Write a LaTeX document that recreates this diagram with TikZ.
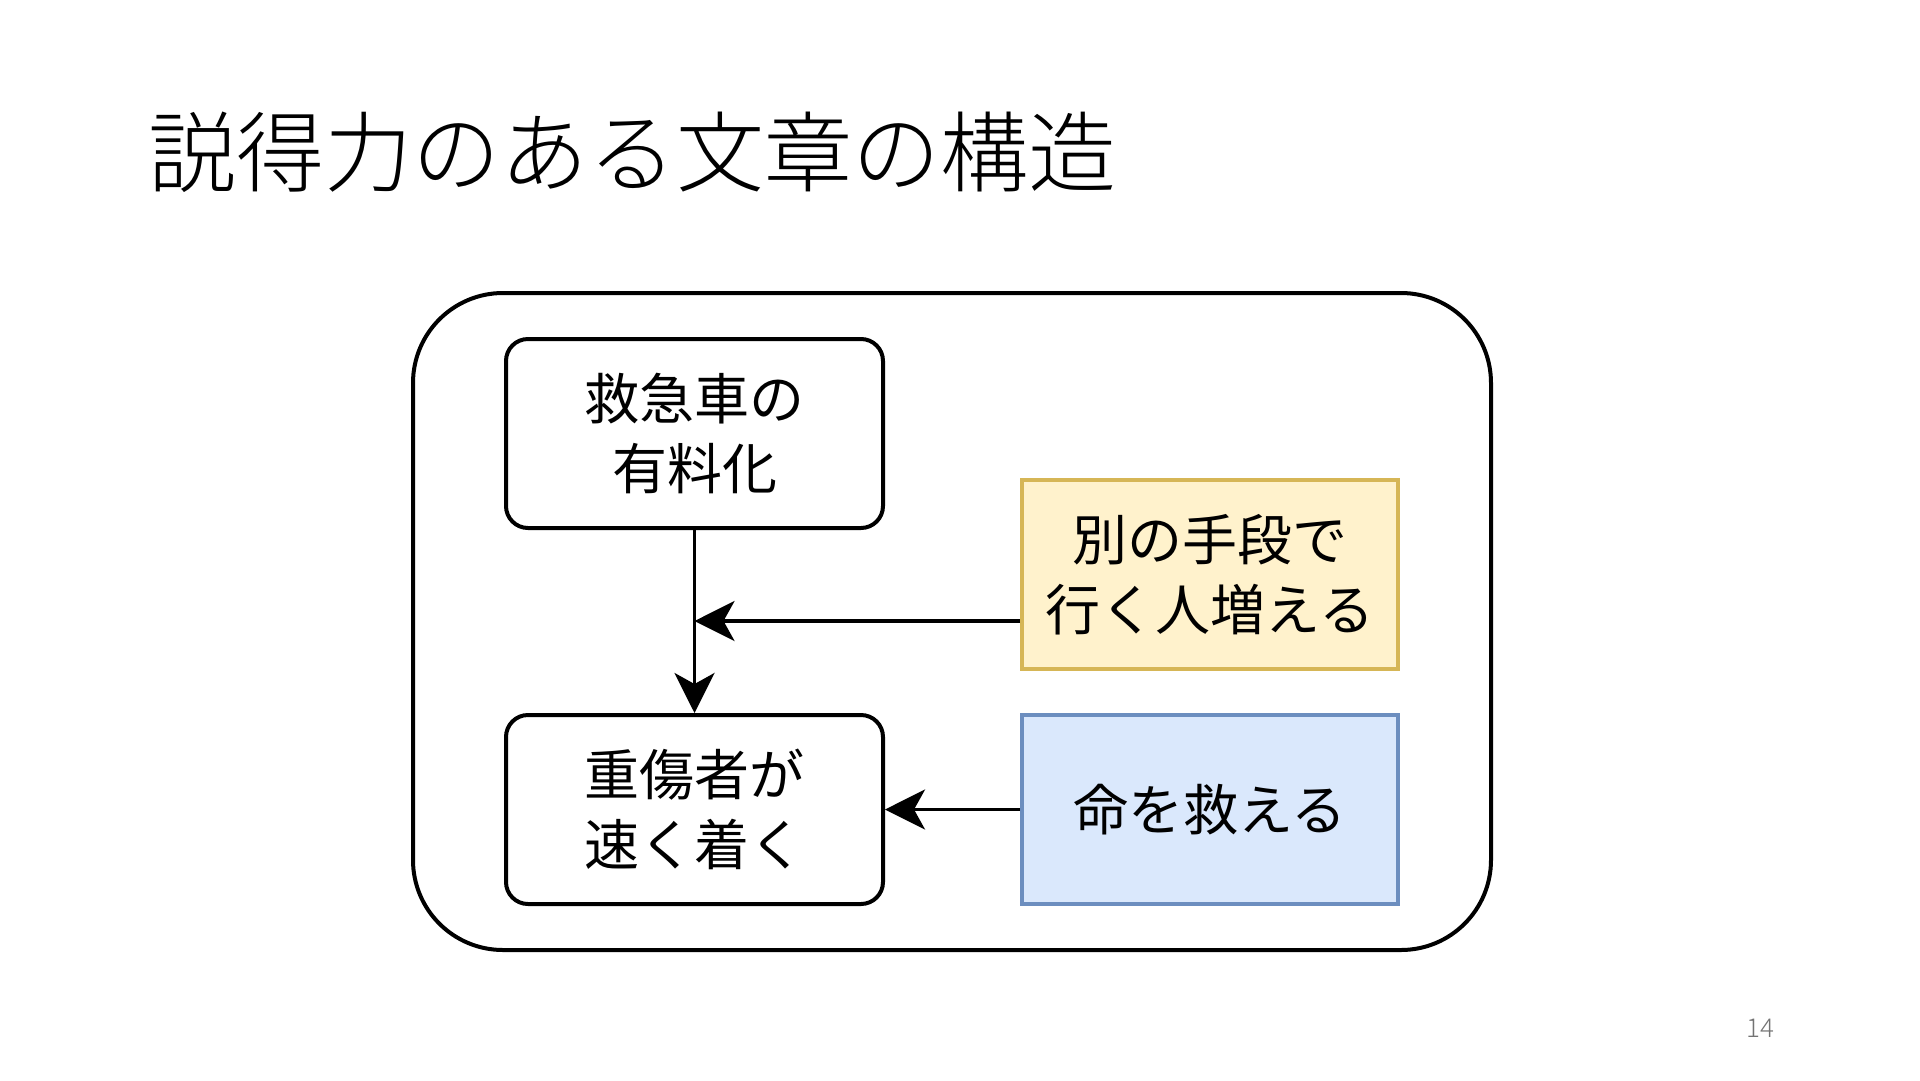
\documentclass[tikz,border=0pt]{standalone}
\usepackage{fontspec}
\newfontfamily\jp{Noto Sans CJK JP}
\newfontfamily\jplight{Noto Sans CJK JP Light}
\usetikzlibrary{arrows.meta}
\definecolor{ylwfill}{HTML}{FFF2CC}
\definecolor{ylwdraw}{HTML}{D6B656}
\definecolor{bluefill}{HTML}{DAE8FC}
\definecolor{bluedraw}{HTML}{6C8EBF}
\tikzset{
  boxtext/.style={font=\jp\fontsize{55}{70}\selectfont, align=center},
  roundbox/.style={boxtext, draw=black, line width=4pt, rounded corners=22pt,
    minimum width=377pt, minimum height=189pt, inner sep=0pt},
  colbox/.style={boxtext, line width=3.8pt, minimum width=376pt, minimum height=189pt, inner sep=0pt},
  arr/.style={line width=3.8pt, -{Stealth[length=40pt,width=40pt,inset=11pt]}},
}
\begin{document}
\begin{tikzpicture}[x=1pt,y=-1pt]
\useasboundingbox (0,0) rectangle (1920,1080);
\fill[white] (0,0) rectangle (1920,1080);
\node[anchor=west, inner sep=0pt, font=\jplight\fontsize{88}{100}\selectfont] (title) at (148,152) {説得力のある文章の構造};
\node[draw=black, line width=4pt, rounded corners=90pt, minimum width=1078pt, minimum height=657pt, inner sep=0pt] (frame) at (952,621.5) {};
\node[roundbox] (box1) at (694.5,433.5) {救急車の\\有料化};
\node[roundbox] (box2) at (694.5,809.5) {重傷者が\\速く着く};
\node[colbox, draw=ylwdraw, fill=ylwfill] (yellow) at (1210,574.5) {別の手段で\\行く人増える};
\node[colbox, draw=bluedraw, fill=bluefill] (blue) at (1210,809.5) {命を救える};
\coordinate (junction) at (694.5,621);
\draw[arr] (box1.south) -- (box2.north);
\draw[arr] (yellow.west |- junction) -- (junction);
\draw[arr] (blue.west) -- (box2.east);
\node[inner sep=0pt, font=\jplight\fontsize{26}{30}\selectfont, text=black!55] (pagenum) at (1760,1028) {14};
\end{tikzpicture}
\end{document}
